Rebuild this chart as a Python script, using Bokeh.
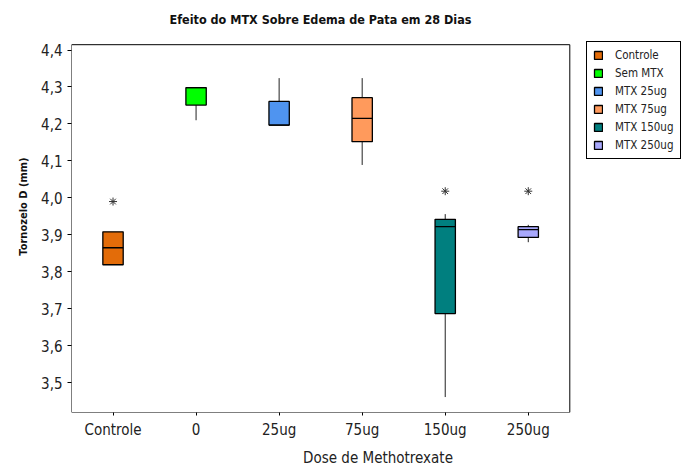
from bokeh.plotting import figure
from bokeh.models import (Range1d, FixedTicker, CustomJSTickFormatter, BoxAnnotation,
                          Legend, LegendItem, ColumnDataSource, Label)
from bokeh.embed import file_html
from bokeh.resources import INLINE

# ---- data ----
title_text = "Efeito do MTX Sobre Edema de Pata em 28 Dias"
cats = ["Controle", "0", "25ug", "75ug", "150ug", "250ug"]
legend_labels = ["Controle", "Sem MTX", "MTX 25ug", "MTX 75ug", "MTX 150ug", "MTX 250ug"]
q1 = [3.819, 4.251, 4.197, 4.152, 3.687, 3.893]
median = [3.865, 4.298, 4.197, 4.215, 3.922, 3.914]
q3 = [3.908, 4.298, 4.261, 4.271, 3.942, 3.922]
whisk_low = [3.819, 4.210, 4.197, 4.089, 3.461, 3.880]
whisk_high = [3.908, 4.298, 4.324, 4.324, 3.956, 3.927]
outlier_cats = ["Controle", "150ug", "250ug"]
outlier_vals = [3.990, 4.018, 4.018]
yticks = [3.5, 3.6, 3.7, 3.8, 3.9, 4.0, 4.1, 4.2, 4.3, 4.4]
colors = ["#E36C09", "#00FF00", "#4F94F0", "#FF9A5C", "#007F7F", "#A8A8FC"]

FONT = "DejaVu Sans Condensed"

pos = [i + 1 for i in range(len(cats))]
out_pos = [cats.index(c) + 1 for c in outlier_cats]
BW = 0.245
BOX_TOP = 4.4144   # top edge of the drawn plot box

src = ColumnDataSource(dict(x=pos, xl=[v - BW / 2 for v in pos], xr=[v + BW / 2 for v in pos],
                            q1=q1, med=median, q3=q3, lo=whisk_low, hi=whisk_high,
                            color=colors, label=legend_labels))

# the frame covers the whole canvas above the x axis; the plot box is drawn inside it
p = figure(width=684, height=469,
           x_range=Range1d(0.5, 0.5 + 613 / 83.05),
           y_range=Range1d(3.4192, 4.534),
           output_backend="svg", toolbar_location=None,
           min_border_left=71, min_border_top=0, min_border_bottom=40,
           min_border_right=0)

p.xgrid.visible = False
p.ygrid.visible = False
p.outline_line_color = None

p.add_layout(BoxAnnotation(left=0.5, right=len(cats) + 0.5, top=BOX_TOP, fill_alpha=0,
                           line_color="black", line_width=1, line_alpha=1, level="overlay"))

p.add_layout(Label(x=249, y=393, x_units="screen", y_units="screen", text=title_text,
                   text_font=FONT, text_font_size="12.5px", text_font_style="bold",
                   text_color="#111111", text_align="center", text_baseline="middle"))

# whiskers
p.segment(x0="x", x1="x", y0="q3", y1="hi", source=src, line_color="#222222", line_width=1)
p.segment(x0="x", x1="x", y0="q1", y1="lo", source=src, line_color="#222222", line_width=1)

# boxes
boxes = p.vbar(x="x", width=BW, top="q3", bottom="q1", source=src,
               fill_color="color", line_color="black", line_width=1.3)

# medians
p.segment(x0="xl", x1="xr", y0="med", y1="med", source=src, line_color="black", line_width=1.3)

# outliers
p.scatter(x=out_pos, y=outlier_vals, marker="asterisk", size=8,
          line_color="#333333", line_width=1)

# axes
p.yaxis.ticker = FixedTicker(ticks=yticks)
p.yaxis.formatter = CustomJSTickFormatter(code="return tick.toFixed(1).replace('.', ',')")
p.yaxis.minor_tick_line_color = None
p.yaxis.major_tick_out = 4
p.yaxis.major_tick_in = 0
p.xaxis.ticker = FixedTicker(ticks=pos)
p.xaxis.formatter = CustomJSTickFormatter(args=dict(cats=cats),
                                          code="return cats[Math.round(tick) - 1] || ''")
p.xaxis.minor_tick_line_color = None
p.xaxis.major_tick_out = 3
p.xaxis.major_tick_in = 0
p.xaxis.axis_line_color = None
p.yaxis.axis_line_color = None
for ax in (p.xaxis[0], p.yaxis[0]):
    ax.major_tick_line_color = "black"
    ax.major_label_text_font = FONT
    ax.major_label_text_font_size = "15px"
    ax.major_label_text_color = "#222222"
    ax.axis_label_text_font = FONT
    ax.axis_label_text_font_style = "normal"
    ax.axis_label_text_color = "#222222"

p.xaxis.major_label_text_line_height = 1.0
p.xaxis.axis_label_text_line_height = 1.0
p.xaxis.axis_label = "Dose de Methotrexate"
p.xaxis.axis_label_text_font_size = "15px"
p.xaxis.axis_label_standoff = 7
p.yaxis.axis_label = "Tornozelo D (mm)"
p.yaxis.axis_label_text_font_size = "11px"
p.yaxis.axis_label_text_font_style = "bold"
p.yaxis.axis_label_text_color = "#111111"
p.yaxis.axis_label_standoff = 8

legend = Legend(items=[LegendItem(label=lab, renderers=[boxes], index=i)
                       for i, lab in enumerate(legend_labels)],
                location=(515, 253))
legend.border_line_color = "black"
legend.border_line_width = 1
legend.border_line_alpha = 1
legend.background_fill_color = "white"
legend.background_fill_alpha = 1
legend.padding = 6
legend.spacing = 4
legend.margin = 0
legend.glyph_width = 10
legend.glyph_height = 10
legend.label_height = 14
legend.label_standoff = 12
legend.label_text_font = FONT
legend.label_text_font_size = "11.5px"
legend.label_text_color = "#222222"
p.add_layout(legend)

open("out.html", "w").write(file_html(p, INLINE))
